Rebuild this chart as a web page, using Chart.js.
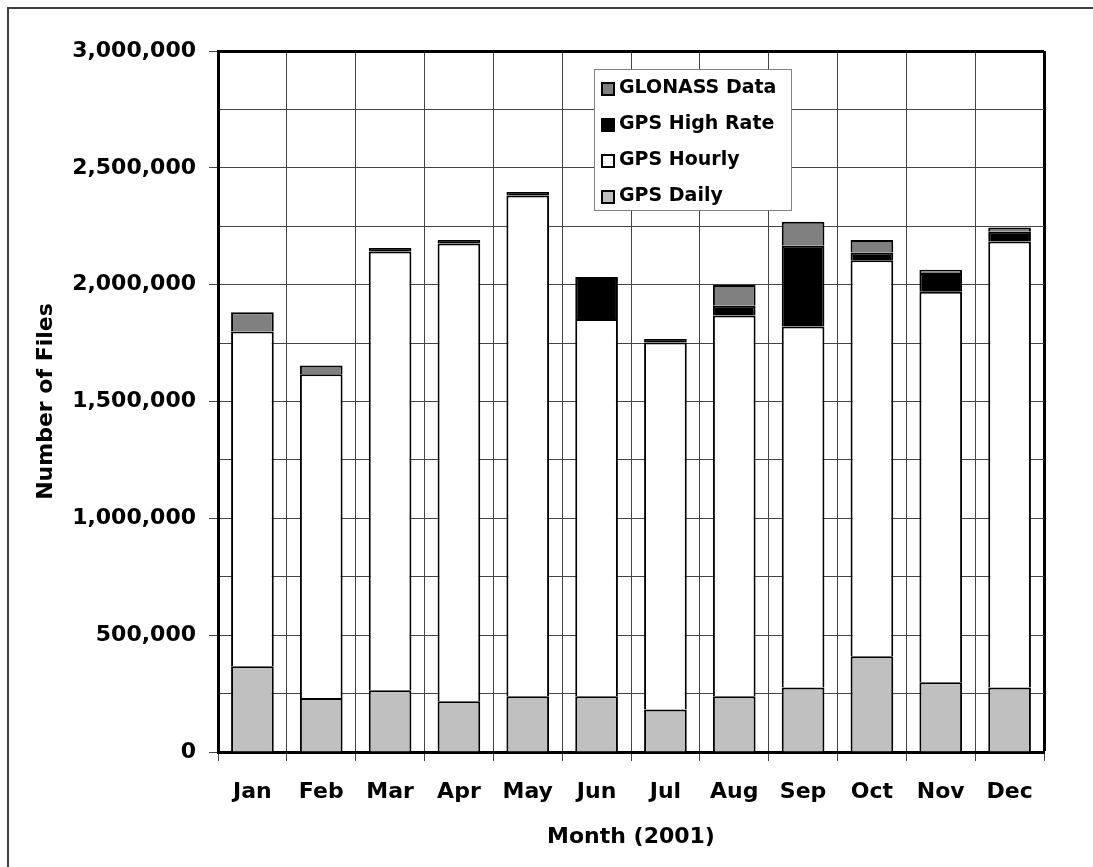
<!DOCTYPE html>
<html>
<head>
<meta charset="utf-8">
<script src="https://cdn.jsdelivr.net/npm/chart.js@4"></script>
<style>
  html, body { margin: 0; padding: 0; background: #fff; }
  #wrap { position: relative; width: 1093px; height: 867px; overflow: hidden; }
  #frame { position: absolute; left: 7px; top: 7px; width: 2000px; height: 2000px;
           border-left: 2px solid #404040; border-top: 2px solid #404040; }
  #chartBox { position: absolute; left: 0; top: 0; width: 1093px; height: 867px; }
  #legend { position: absolute; left: 594px; top: 69px; width: 196px; height: 140px;
            border: 1px solid #808080; background: #fff;
            font: bold 19px "DejaVu Sans", sans-serif; color: #000; }
  #legend .item { position: absolute; left: 6px; height: 36px; line-height: 36px; white-space: nowrap; }
  #legend .sw { display: inline-block; width: 14px; height: 14px; box-sizing: border-box;
                border: 2px solid #000; vertical-align: middle; margin: 2px 4px 0 0; }
</style>
</head>
<body>
<div id="wrap">
  <div id="frame"></div>
  <div id="chartBox"><canvas id="filesChart"></canvas></div>
  <div id="legend"></div>
</div>
<script>
var ctx = document.querySelector('#filesChart').getContext('2d');

// files per month, 2001
const months = ['Jan', 'Feb', 'Mar', 'Apr', 'May', 'Jun', 'Jul', 'Aug', 'Sep', 'Oct', 'Nov', 'Dec'];
const gpsDaily = [367000, 231000, 264000, 217000, 239000, 239000, 182000, 239000, 276000, 410000, 298000, 276000];
const gpsHourly = [1433000, 1386000, 1878000, 1959000, 2143000, 1614000, 1571000, 1629000, 1545000, 1695000, 1672000, 1909000];
const gpsHighRate = [0, 0, 15000, 15000, 15000, 180000, 15000, 42000, 346000, 33000, 80000, 41000];
const glonassData = [82000, 37000, 0, 0, 0, 0, 0, 89000, 102000, 53000, 14000, 19000];

Chart.defaults.font.family = '"DejaVu Sans", sans-serif';
Chart.defaults.font.weight = 'bold';
Chart.defaults.font.size = 22;
Chart.defaults.color = '#000';

const axisFont = { family: '"DejaVu Sans", sans-serif', size: 22, weight: 'bold' };

// legend drawn as html so it can sit inside the plot like the original
const htmlLegend = {
  id: 'htmlLegend',
  afterUpdate(chart) {
    const box = document.getElementById('legend');
    box.innerHTML = '';
    const items = chart.options.plugins.legend.labels.generateLabels(chart).reverse();
    items.forEach((item, i) => {
      const row = document.createElement('div');
      row.className = 'item';
      row.style.top = (-2 + i * 36) + 'px';
      const sw = document.createElement('span');
      sw.className = 'sw';
      sw.style.background = item.fillStyle;
      row.appendChild(sw);
      row.appendChild(document.createTextNode(item.text));
      box.appendChild(row);
    });
  },
};

var chart = new Chart(ctx, {
  type: 'bar',
  data: {
    labels: months,
    datasets: [
      { label: 'GPS Daily', data: gpsDaily, backgroundColor: '#c0c0c0' },
      { label: 'GPS Hourly', data: gpsHourly, backgroundColor: '#ffffff' },
      { label: 'GPS High Rate', data: gpsHighRate, backgroundColor: '#000000' },
      { label: 'GLONASS Data', data: glonassData, backgroundColor: '#808080' },
    ],
  },
  options: {
    responsive: true,
    maintainAspectRatio: false,
    animation: false,
    layout: { padding: { top: 51, right: 49, bottom: 0, left: 0 } },
    datasets: {
      bar: {
        borderColor: '#000',
        borderWidth: { top: 2, bottom: 0, left: 2, right: 2 },
        borderSkipped: false,
        categoryPercentage: 1,
        barPercentage: 0.62,
      },
    },
    plugins: {
      legend: { display: false },
      tooltip: { enabled: false },
    },
    scales: {
      x: {
        stacked: true,
        grid: {
          offset: true,
          color: (c) => (c.tick ? '#444' : '#000'),
          lineWidth: (c) => (c.tick ? 1 : 3),
          tickLength: 9,
          tickWidth: 1,
          tickColor: '#444',
        },
        border: { color: '#000', width: 3 },
        ticks: { font: axisFont, color: '#000', padding: 18 },
        title: {
          display: true,
          text: 'Month (2001)',
          font: axisFont,
          color: '#000',
          padding: { top: 0, bottom: 17 },
        },
        afterFit: (s) => { s.height = 115; },
      },
      y: {
        stacked: true,
        min: 0,
        max: 3000000,
        grid: {
          color: (c) => (c.tick && c.tick.value === 3000000 ? '#000' : '#444'),
          lineWidth: (c) => (c.tick && c.tick.value === 3000000 ? 3 : 1),
          tickLength: 9,
          tickWidth: 1,
          tickColor: (c) => (c.tick && c.tick.value % 500000 === 0 ? '#444' : 'rgba(0,0,0,0)'),
        },
        border: { color: '#000', width: 3 },
        ticks: {
          stepSize: 250000,
          font: axisFont,
          color: '#000',
          padding: 13,
          callback: (v) => (v % 500000 === 0 ? v.toLocaleString('en-US') : ''),
        },
        title: {
          display: true,
          text: 'Number of Files',
          font: axisFont,
          color: '#000',
          padding: { top: 33, bottom: 0 },
        },
        afterFit: (s) => { s.width = 218; },
      },
    },
  },
  plugins: [htmlLegend],
});
</script>
</body>
</html>
